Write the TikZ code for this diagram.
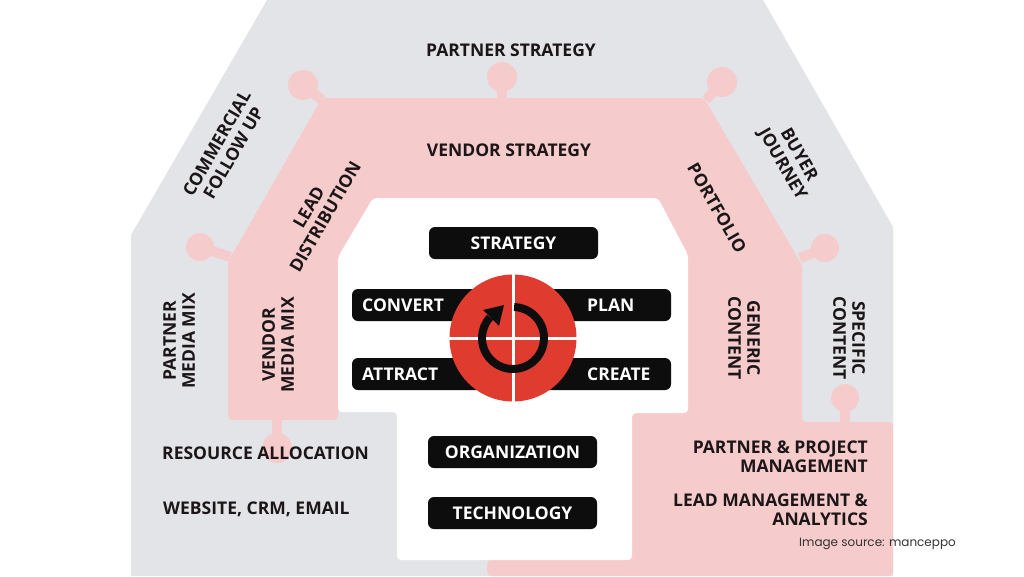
\documentclass[tikz,border=0pt]{standalone}
\usepackage{fontspec}
\setmainfont{Open Sans}
\newfontfamily\srcfont{Poppins}
\usetikzlibrary{arrows.meta}
\definecolor{bggray}{HTML}{E3E4E8}
\definecolor{bandpink}{HTML}{F6CBCB}
\definecolor{discred}{HTML}{E03B2F}
\definecolor{pillblack}{HTML}{0D0D0D}
\definecolor{inkdark}{HTML}{1C1618}
\definecolor{srcink}{HTML}{333333}
\begin{document}
\begin{tikzpicture}[x=1pt,y=-1pt,
  lbl/.style={font=\bfseries\fontsize{17.5}{19}\selectfont, text=inkdark, align=center, inner sep=0pt},
  pill/.style={fill=pillblack, rounded corners=6pt, inner sep=0pt, minimum height=32pt},
  pilltext/.style={font=\bfseries\fontsize{17.5}{19}\selectfont, text=white, inner sep=0pt},
  knob/.style={fill=bandpink},
  neck/.style={draw=bandpink, line width=10pt}
]
\useasboundingbox (0,0) rectangle (1024,576);
\fill[white] (0,0) rectangle (1024,576);
% outer gray octagon
\fill[bggray] (267,0) -- (763,0) -- (893,227) -- (893,576) -- (131,576) -- (131,235) -- cycle;
% knobs
\fill[knob] (303,85) circle (15pt);   \draw[neck] (303,85) -- (322,100);
\fill[knob] (502,77) circle (15pt);   \draw[neck] (502,77) -- (502,100);
\fill[knob] (722,82) circle (15pt);   \draw[neck] (722,82) -- (706,100);
\fill[knob] (200,247) circle (14pt);  \draw[neck] (200,247) -- (230,257);
\fill[knob] (825,248) circle (14pt);  \draw[neck] (825,248) -- (800,258);
\fill[knob] (845,398) circle (14pt);  \draw[neck] (845,398) -- (845,424);
\fill[knob] (277,448) circle (15pt);  \draw[neck] (277,448) -- (277,418);
% pink band
\fill[bandpink, rounded corners=4pt] (322,98) -- (704,98) -- (802,265) -- (802,422) -- (893,422) -- (893,576) -- (487,576) -- (487,560) -- (632,560) -- (632,413) -- (688,413) -- (688,255) -- (658,198) -- (373,198) -- (338,257) -- (338,420) -- (228,420) -- (228,262) -- cycle;
% white core
\fill[white, rounded corners=4pt] (373,198) -- (658,198) -- (688,255) -- (688,413) -- (632,413) -- (632,560) -- (397,560) -- (397,412) -- (338,412) -- (338,257) -- cycle;

% ring labels
\node[lbl] (partnerstrategy) at (511,50) {PARTNER STRATEGY};
\node[lbl] (vendorstrategy) at (509,150) {VENDOR STRATEGY};
\node[lbl, rotate=60] (commercial) at (225,148) {COMMERCIAL\\FOLLOW UP};
\node[lbl, rotate=60] (leaddist) at (317,212) {LEAD\\DISTRIBUTION};
\node[lbl, rotate=-60] (buyer) at (790,160) {BUYER\\JOURNEY};
\node[lbl, rotate=-60] (portfolio) at (717,208) {PORTFOLIO};
\node[lbl, rotate=90] (partnermix) at (179,341) {PARTNER\\MEDIA MIX};
\node[lbl, rotate=90] (vendormix) at (278,345) {VENDOR\\MEDIA MIX};
\node[lbl, rotate=-90] (generic) at (744,338) {GENERIC\\CONTENT};
\node[lbl, rotate=-90] (specific) at (849,338) {SPECIFIC\\CONTENT};
\node[lbl, anchor=west] (resource) at (162,453) {RESOURCE ALLOCATION};
\node[lbl, anchor=west] (website) at (163,509) {WEBSITE, CRM, EMAIL};
\node[lbl, anchor=east, align=right] (ppm) at (868,456.5) {PARTNER \& PROJECT\\MANAGEMENT};
\node[lbl, anchor=east, align=right] (lma) at (868,510) {LEAD MANAGEMENT \&\\ANALYTICS};

% pills
\node[pill, minimum width=169pt] (strategybar) at (513.5,243) {};
\node[pilltext] (strategy) at (513.5,243) {STRATEGY};
\node[pill, minimum width=170pt] (convertbar) at (437,305) {};
\node[pill, minimum width=170pt] (planbar) at (586,305) {};
\node[pill, minimum width=170pt] (attractbar) at (437,374) {};
\node[pill, minimum width=170pt] (createbar) at (586,374) {};
\node[pill, minimum width=169pt] (orgbar) at (512.5,452) {};
\node[pilltext] (organization) at (512.5,452) {ORGANIZATION};
\node[pill, minimum width=169pt] (techbar) at (512.5,513) {};
\node[pilltext] (technology) at (512.5,513) {TECHNOLOGY};
\node[pilltext, anchor=west] (convert) at (362,305) {CONVERT};
\node[pilltext, anchor=west] (plan) at (587,305) {PLAN};
\node[pilltext, anchor=west] (attract) at (362,374) {ATTRACT};
\node[pilltext, anchor=west] (create) at (587,374) {CREATE};

% central disc
\node[circle, fill=discred, minimum size=127pt, inner sep=0pt] (disc) at (513,338) {};
\draw[white, line width=3pt] (disc.north) -- (disc.south);
\draw[white, line width=3pt] (disc.west) -- (disc.east);
% cycle arrow
\draw[pillblack, line width=8pt] (disc.center) ++(-88:31) arc[start angle=-88, end angle=222, x radius=31, y radius=31];
\fill[pillblack] (504,305) -- (483,310) -- (499,326) -- cycle;

% source
\node[font=\srcfont\fontsize{12}{14}\selectfont, text=srcink, anchor=west, inner sep=0pt] (source) at (799,544) {Image source: manceppo};
\end{tikzpicture}
\end{document}
